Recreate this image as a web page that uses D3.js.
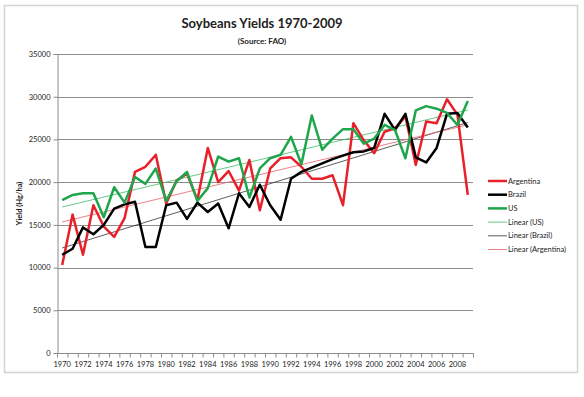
<!DOCTYPE html>
<html>
<head>
<meta charset="utf-8">
<script src="https://cdn.jsdelivr.net/npm/d3@7"></script>
<style>
  body { margin: 0; background: #fff; }
  svg text { font-family: Lato, "Open Sans", sans-serif; fill: #222; }
</style>
</head>
<body>
<div id="chart"></div>
<script>
var years = d3.range(1970, 2010);

var argentina = [10300, 16200, 11500, 17300, 14800, 13600, 15800, 21200, 21800, 23200,
                 17500, 20200, 21000, 17900, 24000, 20000, 21300, 19000, 22600, 16700,
                 21600, 22800, 22900, 21800, 20400, 20400, 20800, 17300, 26900, 24900,
                 23400, 25900, 26300, 27700, 22000, 27100, 26900, 29700, 27900, 18500];

var brazil = [11500, 12200, 14700, 13900, 15000, 16900, 17400, 17700, 12400, 12400,
              17300, 17600, 15700, 17600, 16500, 17500, 14600, 18700, 17100, 19700,
              17300, 15600, 20400, 21200, 21700, 22200, 22700, 23100, 23500, 23600,
              24000, 28000, 26100, 28000, 22900, 22300, 24000, 28000, 28100, 26400];

var us = [17900, 18500, 18700, 18700, 15900, 19400, 17600, 20600, 19800, 21600,
          17800, 20100, 21200, 17800, 19300, 23000, 22400, 22800, 18200, 21600,
          22800, 23200, 25300, 22100, 27800, 23800, 25100, 26200, 26200, 24500,
          25100, 26700, 26100, 22800, 28400, 28900, 28600, 28100, 26700, 29500];

var yTicks = [0, 5000, 10000, 15000, 20000, 25000, 30000, 35000];

var series = [
  {name: "Argentina", values: argentina, color: "#e8202a"},
  {name: "Brazil", values: brazil, color: "#000000"},
  {name: "US", values: us, color: "#1fa64c"}
];

var trends = [
  {name: "Linear (US)", values: us, color: "#3dbb68"},
  {name: "Linear (Brazil)", values: brazil, color: "#333333"},
  {name: "Linear (Argentina)", values: argentina, color: "#e8606a"}
];

var W = 584, H = 397;
var plotLeft = 57, plotRight = 473, plotTop = 54, plotBottom = 353;

var svg = d3.select("#chart").append("svg")
    .attr("width", W)
    .attr("height", H);

// chart border
svg.append("rect")
    .attr("x", 4.5).attr("y", 5.5)
    .attr("width", 573).attr("height", 367)
    .attr("fill", "#fff")
    .attr("stroke", "#d4d4d4")
    .attr("stroke-width", 1.5);

var x = d3.scaleBand().domain(years).range([plotLeft, plotRight]);
var y = d3.scaleLinear().domain([0, 35000]).range([plotBottom, plotTop]);
var cx = function(yr){ return x(yr) + x.bandwidth() / 2; };

// gridlines
svg.append("g")
    .selectAll("line")
    .data(yTicks.filter(function(d){ return d > 0; }))
    .enter()
    .append("line")
    .attr("x1", plotLeft).attr("x2", plotRight)
    .attr("y1", function(d){ return Math.round(y(d)) + 0.5; })
    .attr("y2", function(d){ return Math.round(y(d)) + 0.5; })
    .attr("stroke", "#8c8c8c")
    .attr("stroke-width", 1);

// y axis
var yAxis = svg.append("g")
    .attr("transform", "translate(" + (plotLeft + 0.5) + ",0)")
    .call(d3.axisLeft(y).tickValues(yTicks).tickSize(4).tickPadding(3).tickFormat(d3.format("d")));
yAxis.select(".domain").attr("stroke", "#8c8c8c");
yAxis.selectAll(".tick line").attr("stroke", "#8c8c8c");
yAxis.selectAll("text").style("font-size", "7.5px").attr("fill", "#222");

// x axis with ticks at category boundaries
var xAxisG = svg.append("g")
    .attr("transform", "translate(0," + (plotBottom + 0.5) + ")");
xAxisG.append("line")
    .attr("x1", plotLeft).attr("x2", plotRight + 0.5)
    .attr("stroke", "#8c8c8c");
xAxisG.selectAll("line.tk")
    .data(years.concat([2010]))
    .enter()
    .append("line")
    .attr("class", "tk")
    .attr("x1", function(d){ return (d === 2010 ? plotRight : x(d)) + 0.5; })
    .attr("x2", function(d){ return (d === 2010 ? plotRight : x(d)) + 0.5; })
    .attr("y1", 0).attr("y2", 4)
    .attr("stroke", "#8c8c8c");
xAxisG.selectAll("text")
    .data(years.filter(function(d){ return d % 2 === 0; }))
    .enter()
    .append("text")
    .attr("x", function(d){ return cx(d); })
    .attr("y", 13)
    .attr("text-anchor", "middle")
    .style("font-size", "7.5px")
    .text(function(d){ return d; });

// linear trend lines (least squares over category index)
function fit(vals){
  var n = vals.length, mx = (n - 1) / 2, my = d3.mean(vals);
  var sxy = 0, sxx = 0;
  vals.forEach(function(v, i){ sxy += (i - mx) * (v - my); sxx += (i - mx) * (i - mx); });
  var b = sxy / sxx, a = my - b * mx;
  return [a, a + b * (n - 1)];
}

svg.append("g")
    .selectAll("line")
    .data(trends)
    .enter()
    .append("line")
    .attr("x1", cx(years[0]))
    .attr("x2", cx(years[years.length - 1]))
    .attr("y1", function(d){ return y(fit(d.values)[0]); })
    .attr("y2", function(d){ return y(fit(d.values)[1]); })
    .attr("stroke", function(d){ return d.color; })
    .attr("stroke-width", 0.8);

// data lines
var line = d3.line()
    .x(function(d, i){ return cx(years[i]); })
    .y(function(d){ return y(d); });

svg.append("g")
    .selectAll("path")
    .data(series)
    .enter()
    .append("path")
    .attr("d", function(d){ return line(d.values); })
    .attr("fill", "none")
    .attr("stroke", function(d){ return d.color; })
    .attr("stroke-width", 2.5)
    .attr("stroke-linejoin", "round");

// titles
svg.append("text")
    .attr("x", 262).attr("y", 28)
    .attr("text-anchor", "middle")
    .style("font-size", "13px")
    .style("font-weight", "bold")
    .text("Soybeans Yields 1970-2009");

svg.append("text")
    .attr("x", 262).attr("y", 44)
    .attr("text-anchor", "middle")
    .style("font-size", "8px")
    .style("font-weight", "bold")
    .text("(Source: FAO)");

svg.append("text")
    .attr("transform", "translate(22," + ((plotTop + plotBottom) / 2) + ") rotate(-90)")
    .attr("text-anchor", "middle")
    .style("font-size", "7.5px")
    .style("font-weight", "bold")
    .text("Yield (Hg/ha)");

// legend
var legendItems = series.map(function(d){ return {name: d.name, color: d.color, w: 2.5}; })
    .concat(trends.map(function(d){ return {name: d.name, color: d.color, w: 0.8}; }));

var legend = svg.append("g")
    .selectAll("g")
    .data(legendItems)
    .enter()
    .append("g")
    .attr("transform", function(d, i){ return "translate(488," + (181 + i * 13.7) + ")"; });

legend.append("line")
    .attr("x1", 0).attr("x2", 19)
    .attr("stroke", function(d){ return d.color; })
    .attr("stroke-width", function(d){ return d.w; });

legend.append("text")
    .attr("x", 20).attr("y", 2.6)
    .style("font-size", "7.5px")
    .text(function(d){ return d.name; });
</script>
</body>
</html>
